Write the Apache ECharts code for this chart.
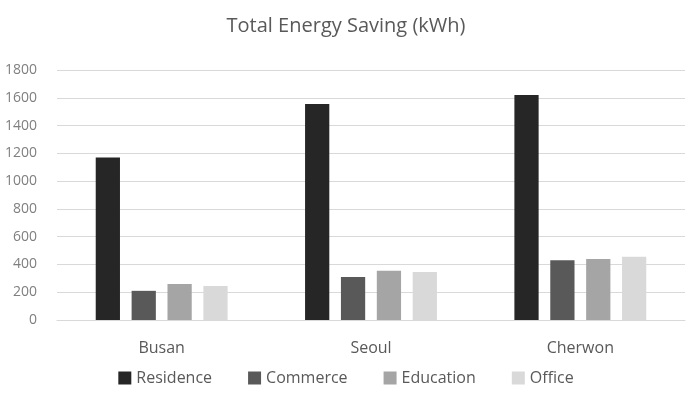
<!DOCTYPE html>
<html>
<head>
<meta charset="utf-8">
<script src="https://cdn.jsdelivr.net/npm/echarts@6/dist/echarts.min.js"></script>
<style>
  html, body { margin: 0; padding: 0; background: #fff; }
  #main { width: 692px; height: 394px; }
</style>
</head>
<body>
<div id="main"></div>
<script>
// data
var cities = ['Busan', 'Seoul', 'Cherwon'];
var residence = [1170, 1555, 1620];
var commerce = [210, 310, 430];
var education = [260, 355, 440];
var office = [245, 345, 455];
var yTicks = [0, 200, 400, 600, 800, 1000, 1200, 1400, 1600, 1800];

var colors = ['#262626', '#595959', '#a5a5a5', '#d9d9d9'];
var names = ['Residence', 'Commerce', 'Education', 'Office'];
var values = [residence, commerce, education, office];

var chart = echarts.init(document.getElementById('main'));

var series = names.map(function (n, i) {
    return {
        name: n,
        type: 'bar',
        data: values[i],
        barGap: '48%',
        barCategoryGap: '37%',
        itemStyle: { color: colors[i] },
        emphasis: { disabled: true }
    };
});

chart.setOption({
    animation: false,
    textStyle: { fontFamily: 'Open Sans' },
    title: {
        text: 'Total Energy Saving (kWh)',
        left: 'center',
        top: 11,
        textStyle: { color: '#595959', fontSize: 20, fontWeight: 'normal' }
    },
    legend: {
        data: names,
        bottom: 3,
        left: 'center',
        itemWidth: 13,
        itemHeight: 13,
        itemGap: 36,
        icon: 'rect',
        textStyle: { color: '#595959', fontSize: 16 }
    },
    grid: { left: 57, right: 7, top: 70, bottom: 74 },
    xAxis: {
        type: 'category',
        data: cities,
        axisLine: { lineStyle: { color: '#d9d9d9' } },
        axisTick: { show: false },
        axisLabel: { color: '#595959', fontSize: 16, margin: 20 }
    },
    yAxis: {
        type: 'value',
        min: 0,
        max: yTicks[yTicks.length - 1],
        interval: 200,
        axisLine: { show: false },
        axisTick: { show: false },
        splitLine: { lineStyle: { color: '#d9d9d9' } },
        axisLabel: {
            color: '#7f7f7f',
            fontSize: 14,
            margin: 20,
            formatter: function (v) { return String(v); }
        }
    },
    series: series
});
</script>
</body>
</html>
